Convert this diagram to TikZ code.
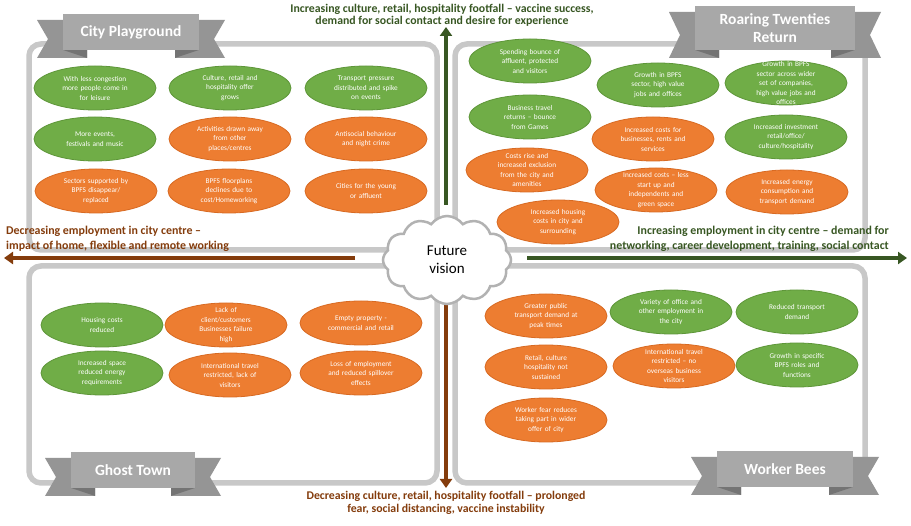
\documentclass[tikz,border=0pt]{standalone}
\usepackage{fontspec}
\setmainfont{Carlito}
\usetikzlibrary{shapes.geometric,shapes.symbols,arrows.meta}
\definecolor{egreen}{HTML}{70AD47}
\definecolor{egreenD}{HTML}{5E9639}
\definecolor{eorange}{HTML}{ED7D31}
\definecolor{eorangeD}{HTML}{D86A22}
\definecolor{dgreen}{HTML}{385723}
\definecolor{brownA}{HTML}{843C0C}
\definecolor{framegrey}{HTML}{C8C8C8}
\definecolor{ribbongrey}{HTML}{A8A8A8}
\definecolor{tailgrey}{HTML}{959595}
\definecolor{foldgrey}{HTML}{747474}
\newcommand\myribbon[6]{% name, cx, cy, half width, half height, text
  \fill[tailgrey] ({#2-#4-26},{#3-#5+6}) -- ({#2-#4+24},{#3-#5+6}) -- ({#2-#4+24},{#3+#5+8}) -- ({#2-#4-26},{#3+#5+8}) -- ({#2-#4-15},{#3+7}) -- cycle;
  \fill[tailgrey] ({#2+#4+26},{#3-#5+6}) -- ({#2+#4-24},{#3-#5+6}) -- ({#2+#4-24},{#3+#5+8}) -- ({#2+#4+26},{#3+#5+8}) -- ({#2+#4+15},{#3+7}) -- cycle;
  \fill[foldgrey] ({#2-#4},{#3+#5}) -- ({#2-#4+24},{#3+#5}) -- ({#2-#4+24},{#3+#5+8}) -- cycle;
  \fill[foldgrey] ({#2+#4},{#3+#5}) -- ({#2+#4-24},{#3+#5}) -- ({#2+#4-24},{#3+#5+8}) -- cycle;
  \node[ribbonbox, minimum width={2*#4}, minimum height={2*#5}] (#1) at (#2,#3) {#6};
}
\begin{document}
\begin{tikzpicture}[x=1pt,y=-1pt,
  frame/.style={draw=framegrey, line width=5.5pt, rounded corners=12pt},
  el/.style={ellipse, minimum width=122pt, minimum height=44pt, inner xsep=0pt, inner ysep=-6pt,
    text width=84pt, align=center, text=white, font=\fontsize{7.3}{9.5}\selectfont, line width=0.8pt},
  ge/.style={el, fill=egreen, draw=egreenD},
  oe/.style={el, fill=eorange, draw=eorangeD},
  ribbonbox/.style={fill=ribbongrey, inner sep=0pt, text=white, align=center,
    font=\fontsize{15.5}{18.5}\selectfont\bfseries},
  garrow/.style={draw=dgreen, line width=4pt, -{Triangle[length=9pt,width=12pt]}},
  barrow/.style={draw=brownA, line width=4pt, -{Triangle[length=9pt,width=12pt]}},
  biglab/.style={font=\fontsize{11.9}{15}\selectfont\bfseries, inner sep=0pt},
  smalllab/.style={font=\fontsize{11.8}{12.2}\selectfont\bfseries, inner sep=0pt, align=center}
]
\useasboundingbox (0,0) rectangle (911,526);
\fill[white] (0,0) rectangle (911,526);
% quadrant frames
\draw[frame] (29,44) rectangle (437,250);
\draw[frame] (455,44) rectangle (865,250);
\draw[frame] (29,266) rectangle (437,483);
\draw[frame] (455,266) rectangle (865,483);
% ribbons
\myribbon{tl}{131}{32}{68}{18}{City Playground}
\myribbon{tr}{775}{28}{80}{22}{Roaring Twenties\\Return}
\myribbon{bl}{133}{470}{62}{18}{Ghost Town}
\myribbon{br}{785}{469}{68}{18}{Worker Bees}
% arrows
\coordinate (upS) at (446,205);
\coordinate (upE) at (446,27);
\coordinate (dnS) at (446,305);
\coordinate (dnE) at (446,488);
\coordinate (lfS) at (355,258);
\coordinate (lfE) at (4,258);
\coordinate (rtS) at (527,258);
\coordinate (rtE) at (907,258);
\draw[garrow] (upS) -- (upE);
\draw[barrow] (dnS) -- (dnE);
\draw[barrow] (lfS) -- (lfE);
\draw[garrow] (rtS) -- (rtE);
% centre cloud
\node[cloud, cloud puffs=12, cloud puff arc=110, draw=gray!60, line width=2.5pt, fill=white,
  minimum width=128pt, minimum height=88pt, align=center, inner sep=0pt,
  font=\fontsize{15}{18}\selectfont] (fv) at (447,260) {Future\\vision};
% arrow labels
\node[smalllab, text=dgreen] (toplab) at (442,15) {Increasing culture, retail, hospitality footfall – vaccine success,\\demand for social contact and desire for experience};
\node[smalllab, text=brownA, font=\fontsize{11.8}{13}\selectfont\bfseries] (botlab) at (446,503) {Decreasing culture, retail, hospitality footfall – prolonged\\fear, social distancing, vaccine instability};
\node[biglab, text=brownA, anchor=west, align=left] (leftlab) at (6,239) {Decreasing employment in city centre –\\impact of home, flexible and remote working};
\node[biglab, text=dgreen, anchor=east, align=right] (rightlab) at (889,239) {Increasing employment in city centre – demand for\\networking, career development, training, social contact};
% City Playground
\node[ge] (cp1) at (95,88) {With less congestion\\more people come in\\for leisure};
\node[ge] (cp2) at (230,88) {Culture, retail and\\hospitality offer\\grows};
\node[ge] (cp3) at (366,88) {Transport pressure\\distributed and spike\\on events};
\node[ge] (cp4) at (95,139) {More events,\\festivals and music};
\node[oe] (cp5) at (230,139) {Activities drawn away\\from other\\places/centres};
\node[oe] (cp6) at (366,139) {Antisocial behaviour\\and night crime};
\node[oe] (cp7) at (96,191) {Sectors supported by\\BPFS disappear/\\replaced};
\node[oe] (cp8) at (229,191) {BPFS floorplans\\declines due to\\cost/Homeworking};
\node[oe] (cp9) at (366,191) {Cities for the young\\or affluent};
% Roaring Twenties Return
\node[ge] (rt1) at (530,61) {Spending bounce of\\affluent, protected\\and visitors};
\node[ge] (rt2) at (658,85) {Growth in BPFS\\sector, high value\\jobs and offices};
\node[ge] (rt3) at (786,83) {Growth in BPFS\\sector across wider\\set of companies,\\high value jobs and\\offices};
\node[ge] (rt4) at (530,117) {Business travel\\returns – bounce\\from Games};
\node[oe] (rt5) at (653,139) {Increased costs for\\businesses, rents and\\services};
\node[ge] (rt6) at (786,137) {Increased investment\\retail/office/\\culture/hospitality};
\node[oe] (rt7) at (527,170) {Costs rise and\\increased exclusion\\from the city and\\amenities};
\node[oe] (rt8) at (656,190) {Increased costs – less\\start up and\\independents and\\green space};
\node[oe] (rt9) at (787,192) {Increased energy\\consumption and\\transport demand};
\node[oe] (rt10) at (558,222) {Increased housing\\costs in city and\\surrounding};
% Ghost Town
\node[ge] (gt1) at (102,325) {Housing costs\\reduced};
\node[oe] (gt2) at (226,325) {Lack of\\client/customers\\Businesses failure\\high};
\node[oe] (gt3) at (361,323) {Empty property -\\commercial and retail};
\node[ge] (gt4) at (102,373) {Increased space\\reduced energy\\requirements};
\node[oe] (gt5) at (230,375) {International travel\\restricted, lack of\\visitors};
\node[oe] (gt6) at (361,373) {Loss of employment\\and reduced spillover\\effects};
% Worker Bees
\node[oe] (wb1) at (546,316) {Greater public\\transport demand at\\peak times};
\node[ge] (wb2) at (671,312) {Variety of office and\\other employment in\\the city};
\node[ge] (wb3) at (797,312) {Reduced transport\\demand};
\node[oe] (wb4) at (546,367) {Retail, culture\\hospitality not\\sustained};
\node[oe] (wb5) at (674,366) {International travel\\restricted – no\\overseas business\\visitors};
\node[ge] (wb6) at (797,365) {Growth in specific\\BPFS roles and\\functions};
\node[oe] (wb7) at (546,420) {Worker fear reduces\\taking part in wider\\offer of city};
\end{tikzpicture}
\end{document}
